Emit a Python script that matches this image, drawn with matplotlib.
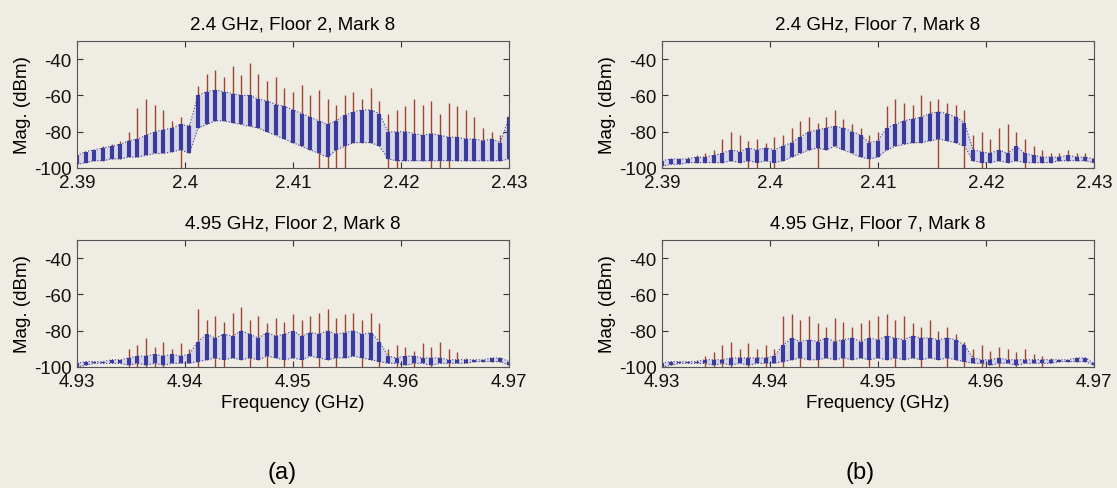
import numpy as np
import matplotlib
matplotlib.use("Agg")
import matplotlib.pyplot as plt

plt.rcParams['font.family'] = ['Liberation Sans', 'DejaVu Sans']
plt.rcParams['font.size'] = 13.5
plt.rcParams['axes.unicode_minus'] = False

# frequency grid (GHz), one sweep bar every 0.8 MHz
f24 = np.round(np.arange(51) * 0.0008 + 2.39, 4)
f49 = np.round(np.arange(51) * 0.0008 + 4.93, 4)

# 2.4 GHz, Floor 2 : blue band top / bottom, red peaks, red dips (dBm)
a24_hi = [-93, -91, -90, -89, -88, -87, -85, -84, -82, -80, -79, -78, -76, -77, -60, -58, -57,
          -58, -59, -60, -60, -62, -63, -65, -66, -68, -70, -72, -74, -76, -74, -71, -69, -68,
          -68, -70, -80, -80, -80, -81, -82, -81, -82, -83, -83, -84, -84, -85, -84, -86, -72]
a24_lo = [-98, -97, -96, -96, -95, -95, -94, -94, -93, -92, -92, -91, -90, -92, -78, -76, -74,
          -74, -75, -76, -77, -78, -80, -82, -84, -86, -88, -90, -92, -94, -90, -88, -86, -86,
          -86, -88, -95, -96, -96, -96, -96, -96, -96, -96, -96, -96, -96, -96, -96, -96, -95]
a24_pk = [-95, -92, -90, -88, -87, -85, -80, -67, -62, -65, -68, -74, -72, -76, -55, -48, -46,
          -50, -44, -49, -42, -48, -52, -50, -56, -58, -54, -60, -57, -62, -65, -60, -58, -62,
          -56, -63, -70, -68, -66, -62, -65, -63, -70, -64, -66, -68, -72, -78, -80, -82, -70]
a24_dp = [-98, -97, -96, -96, -95, -95, -94, -94, -93, -92, -92, -91, -100, -92, -78, -76, -74,
          -74, -75, -76, -77, -78, -80, -82, -84, -86, -88, -90, -100, -100, -100, -100, -86, -86,
          -86, -88, -100, -100, -96, -96, -96, -100, -100, -100, -96, -96, -96, -96, -96, -96, -95]

# 4.95 GHz, Floor 2
a49_hi = [-98, -97, -97, -97, -96, -96, -95, -94, -94, -93, -94, -93, -94, -93, -86, -82, -84,
          -82, -83, -80, -82, -84, -81, -83, -82, -80, -83, -81, -82, -80, -82, -81, -80, -82,
          -81, -86, -94, -95, -94, -94, -95, -95, -95, -96, -96, -96, -96, -96, -95, -95, -97]
a49_lo = [-100, -99, -98, -98, -98, -98, -99, -98, -99, -98, -99, -98, -98, -98, -97, -96, -95,
          -96, -95, -96, -95, -96, -94, -95, -96, -95, -96, -94, -95, -96, -95, -95, -94, -95,
          -96, -97, -98, -98, -99, -98, -98, -99, -98, -98, -98, -98, -97, -97, -97, -97, -99]
a49_pk = [-98, -97, -97, -97, -96, -96, -90, -88, -84, -89, -86, -90, -87, -90, -68, -74, -72,
          -75, -70, -67, -74, -72, -76, -73, -75, -71, -74, -72, -70, -68, -73, -71, -70, -74,
          -70, -76, -90, -88, -89, -91, -87, -89, -86, -90, -92, -95, -96, -96, -95, -95, -97]
a49_dp = [-100, -99, -98, -98, -98, -98, -100, -100, -100, -100, -100, -98, -98, -98, -100, -96,
          -100, -100, -95, -96, -100, -96, -100, -95, -100, -95, -100, -94, -100, -96, -100, -95,
          -94, -100, -96, -100, -98, -100, -99, -100, -98, -100, -98, -100, -98, -98, -97, -97,
          -97, -97, -99]

# 2.4 GHz, Floor 7
b24_hi = [-96, -95, -95, -95, -94, -94, -93, -92, -90, -91, -89, -90, -89, -90, -88, -86, -83,
          -80, -79, -78, -77, -78, -80, -82, -86, -85, -78, -76, -74, -73, -72, -70, -69, -70,
          -72, -75, -90, -91, -92, -90, -92, -88, -92, -93, -94, -94, -94, -93, -94, -94, -95]
b24_lo = [-99, -98, -98, -97, -97, -97, -97, -97, -96, -97, -96, -97, -96, -97, -96, -94, -92,
          -90, -89, -90, -88, -90, -92, -94, -95, -94, -90, -88, -87, -86, -86, -85, -84, -85,
          -86, -88, -96, -97, -97, -96, -97, -96, -97, -97, -97, -97, -96, -96, -96, -96, -97]
b24_pk = [-96, -95, -95, -94, -93, -92, -90, -84, -80, -82, -85, -84, -86, -83, -82, -78, -74,
          -72, -75, -72, -68, -73, -76, -78, -82, -80, -66, -62, -64, -65, -60, -63, -62, -64,
          -65, -68, -82, -80, -84, -78, -76, -80, -84, -88, -90, -92, -92, -90, -92, -92, -94]
b24_dp = [-99, -98, -98, -97, -97, -97, -97, -97, -96, -97, -100, -100, -96, -100, -96, -94, -92,
          -90, -100, -90, -88, -90, -92, -94, -100, -94, -90, -88, -87, -86, -86, -85, -100, -85,
          -86, -100, -96, -100, -97, -96, -97, -96, -100, -97, -97, -97, -96, -96, -96, -96, -97]

# 4.95 GHz, Floor 7
b49_hi = [-98, -97, -97, -97, -97, -96, -96, -96, -95, -95, -95, -95, -95, -94, -88, -84, -86,
          -85, -86, -84, -86, -85, -84, -86, -84, -85, -83, -84, -85, -83, -84, -84, -85, -84,
          -85, -88, -95, -96, -96, -95, -96, -96, -96, -96, -96, -96, -96, -96, -95, -95, -98]
b49_lo = [-100, -99, -98, -98, -98, -98, -99, -98, -99, -98, -99, -98, -98, -98, -97, -96, -95,
          -96, -96, -95, -96, -95, -96, -95, -96, -95, -96, -95, -96, -95, -96, -95, -96, -95,
          -96, -97, -98, -98, -99, -98, -98, -99, -98, -98, -98, -98, -97, -97, -97, -97, -99]
b49_pk = [-98, -97, -97, -97, -96, -94, -92, -88, -86, -90, -87, -90, -88, -90, -72, -71, -74,
          -72, -76, -78, -73, -75, -78, -76, -74, -72, -71, -74, -72, -76, -78, -74, -80, -78,
          -82, -86, -90, -88, -91, -89, -90, -92, -90, -93, -94, -95, -96, -96, -95, -95, -97]
b49_dp = [-100, -99, -98, -98, -98, -100, -100, -100, -100, -98, -100, -98, -100, -98, -100, -96,
          -100, -96, -100, -95, -96, -100, -96, -95, -100, -95, -96, -100, -96, -95, -100, -95,
          -96, -100, -96, -100, -98, -100, -99, -100, -98, -100, -98, -98, -100, -98, -97, -97,
          -97, -97, -99]

bg = '#eeece3'
blue = '#3b3b9e'
haze = '#c4c4e6'
red = '#a04430'

fig = plt.figure(figsize=(11.17, 4.89), dpi=100, facecolor=bg)

W, H = 1117, 489
panels = [
    (77, 42, f24, a24_hi, a24_lo, a24_pk, a24_dp, '2.4 GHz, Floor 2, Mark 8', [2.39, 2.4, 2.41, 2.42, 2.43], False),
    (77, 241, f49, a49_hi, a49_lo, a49_pk, a49_dp, '4.95 GHz, Floor 2, Mark 8', [4.93, 4.94, 4.95, 4.96, 4.97], True),
    (662, 42, f24, b24_hi, b24_lo, b24_pk, b24_dp, '2.4 GHz, Floor 7, Mark 8', [2.39, 2.4, 2.41, 2.42, 2.43], False),
    (662, 241, f49, b49_hi, b49_lo, b49_pk, b49_dp, '4.95 GHz, Floor 7, Mark 8', [4.93, 4.94, 4.95, 4.96, 4.97], True),
]

for x0, y0, f, hi, lo, pk, dp, title, xt, bottom in panels:
    ax = fig.add_axes([x0 / W, 1 - (y0 + 127) / H, 432 / W, 127 / H])
    ax.set_facecolor(bg)
    ax.fill_between(f, lo, hi, color=haze, alpha=0.5, lw=0)
    ax.vlines(f, dp, pk, color=red, lw=1.0)
    ax.vlines(f, lo, hi, color=blue, lw=3.0)
    ax.plot(f, lo, color=blue, lw=0.8, ls=':')
    ax.plot(f, hi, color=blue, lw=0.8, ls=':')
    ax.set_xlim(xt[0], xt[-1])
    ax.set_ylim(-100, -30)
    ax.set_xticks(xt)
    ax.set_xticklabels([str(v) for v in xt])
    ax.set_yticks([-100, -80, -60, -40])
    ax.set_ylabel('Mag. (dBm)', labelpad=2)
    ax.set_title(title, fontsize=13.5, pad=9)
    ax.tick_params(direction='in', length=4, width=0.8, top=True, right=True,
                   colors='#333333', labelcolor='#111111', pad=4)
    for s in ax.spines.values():
        s.set_color('#555555')
        s.set_linewidth(0.8)
    if bottom:
        ax.set_xlabel('Frequency (GHz)', labelpad=3)

fig.text(282 / W, 1 - 473 / H, '(a)', fontsize=17, ha='center', va='center')
fig.text(860 / W, 1 - 473 / H, '(b)', fontsize=17, ha='center', va='center')

fig.savefig('out.png', dpi=100, facecolor=bg)
